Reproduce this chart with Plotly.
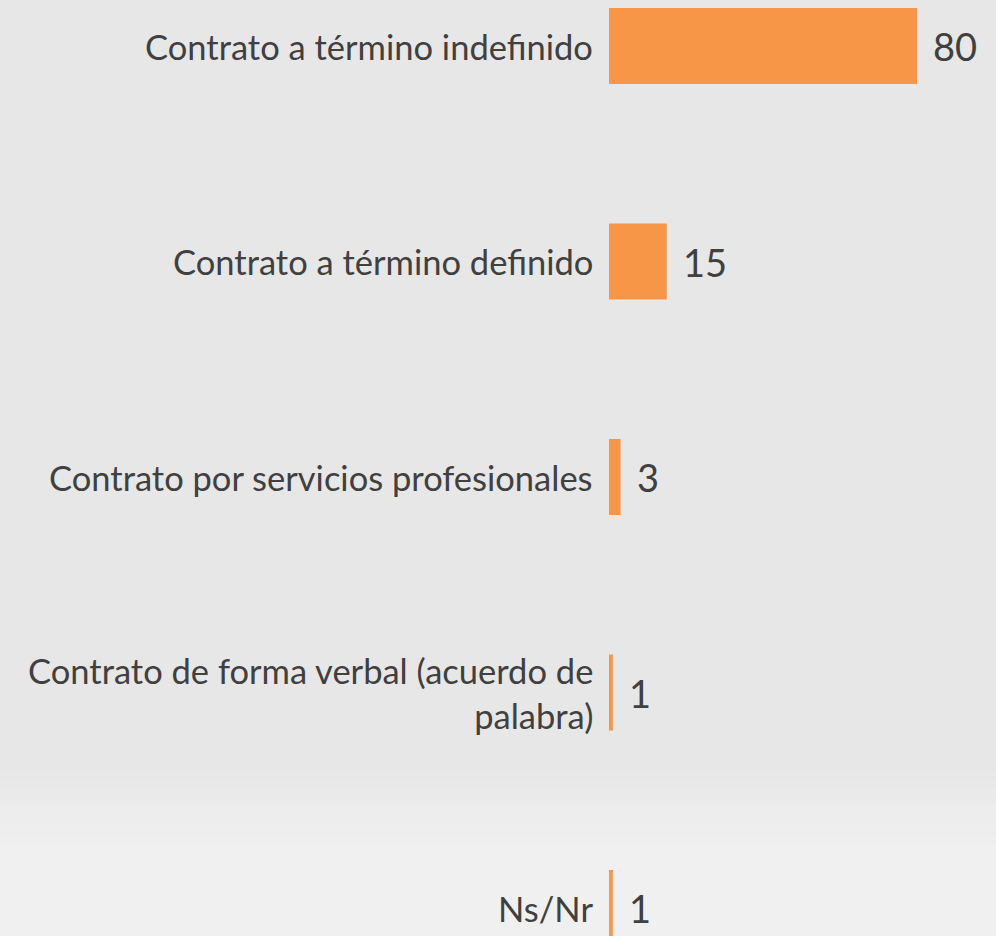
import plotly.graph_objects as go

categories = [
    "Contrato a término indefinido",
    "Contrato a término definido",
    "Contrato por servicios profesionales",
    "Contrato de forma verbal (acuerdo de<br>palabra)",
    "Ns/Nr",
]
values = [80, 15, 3, 1, 1]

BAR_COLOR = "#F79646"
TEXT_COLOR = "#404040"
FONT = "Lato"

W, H = 996, 936
zero_px = 609
px_per_unit = 308 / 80
x_range = [-zero_px / px_per_unit, (W - zero_px) / px_per_unit]

band = 215.5
first_center = 46
y_top = -first_center / band
y_bottom = y_top + H / band

idx = list(range(len(categories)))

fig = go.Figure()
fig.add_trace(go.Bar(
    x=values, y=idx, orientation="h",
    marker=dict(color=BAR_COLOR, line=dict(width=0)),
    width=76 / band,
    hoverinfo="skip",
))

annotations = []
for i, (c, v) in enumerate(zip(categories, values)):
    annotations.append(dict(
        x=0, y=i, xref="x", yref="y", text=c, showarrow=False,
        xanchor="right", yanchor="middle", align="right", xshift=-14,
        font=dict(family=FONT, size=34.5, color=TEXT_COLOR),
    ))
    annotations.append(dict(
        x=v, y=i, xref="x", yref="y", text=str(v), showarrow=False,
        xanchor="left", yanchor="middle", align="left", xshift=14,
        font=dict(family=FONT, size=38, color=TEXT_COLOR),
    ))

# subtle background gradient (lighter band at the bottom)
shapes = []
top_c, bot_c = 231, 240
start, end = 770, 850
steps = 16
for s in range(steps):
    y0 = start + (end - start) * s / steps
    c = round(top_c + (bot_c - top_c) * (s + 1) / steps)
    shapes.append(dict(type="rect", xref="paper", yref="paper", x0=0, x1=1,
                       y0=0, y1=1 - y0 / H,
                       fillcolor=f"rgb({c},{c},{c})", line=dict(width=0), layer="below"))

fig.update_layout(
    width=W, height=H,
    margin=dict(l=0, r=0, t=0, b=0),
    paper_bgcolor="#e7e7e7", plot_bgcolor="rgba(0,0,0,0)",
    showlegend=False,
    xaxis=dict(range=x_range, visible=False, fixedrange=True),
    yaxis=dict(range=[y_bottom, y_top], visible=False, fixedrange=True),
    annotations=annotations,
    shapes=shapes,
)

fig.write_html(
    "out.html",
    config={"displayModeBar": False, "staticPlot": True},
    post_script="document.body.style.margin='0';document.body.style.overflow='hidden';",
)
